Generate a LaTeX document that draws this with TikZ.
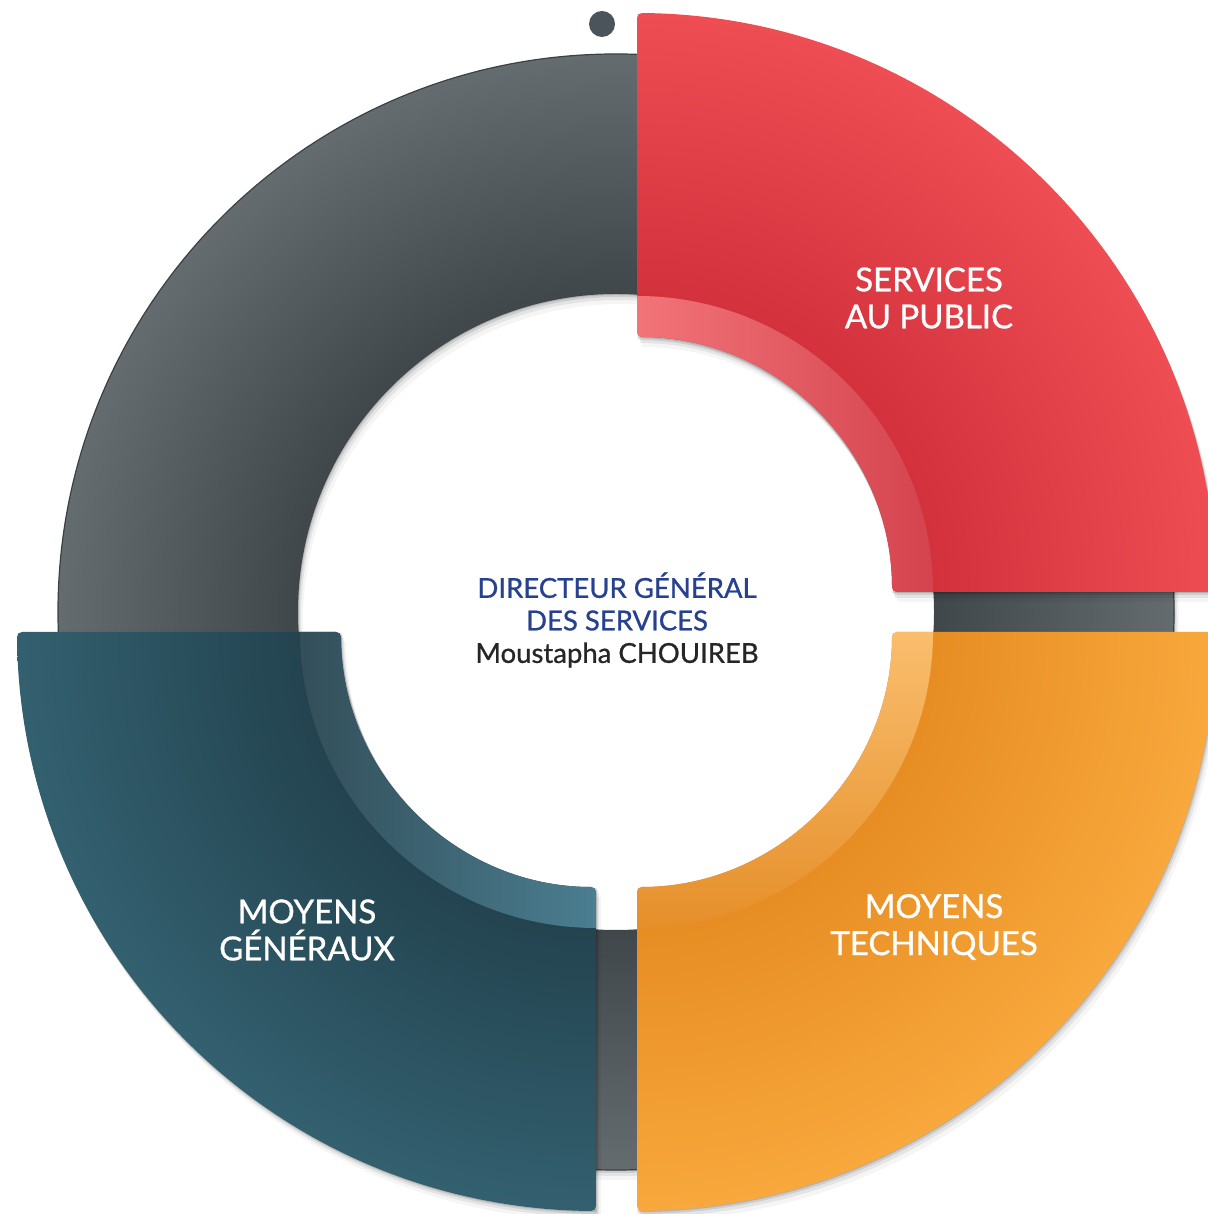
\documentclass[tikz,border=0pt]{standalone}
\usepackage{fontspec}
\setmainfont{Lato}[FakeBold=0.9]
\newfontfamily\medfont{Lato}[FakeBold=0.9]
\usepackage{tikz}
\usetikzlibrary{shadings}

\definecolor{grayin}{HTML}{40474B}
\definecolor{grayout}{HTML}{646C70}
\definecolor{grayline}{HTML}{3A4145}
\definecolor{redin}{HTML}{CF2E3A}
\definecolor{redout}{HTML}{EE4D53}
\definecolor{orangein}{HTML}{E4891F}
\definecolor{orangeout}{HTML}{F8A83C}
\definecolor{tealin}{HTML}{213F4B}
\definecolor{tealout}{HTML}{33606F}
\definecolor{tealband}{HTML}{4A7E91}
\definecolor{dirblue}{HTML}{27418F}
\definecolor{dotgray}{HTML}{4B545A}

% the middle 50bp of a shading is what covers the path
\pgfdeclareradialshading{grayring}{\pgfpoint{0bp}{0bp}}{color(0bp)=(grayin); color(14.2bp)=(grayin); color(25bp)=(grayout); color(50bp)=(grayout)}
\pgfdeclareradialshading{redring}{\pgfpoint{0bp}{0bp}}{color(0bp)=(redin); color(11bp)=(redin); color(25bp)=(redout); color(50bp)=(redout)}
\pgfdeclareradialshading{orangering}{\pgfpoint{0bp}{0bp}}{color(0bp)=(orangein); color(11bp)=(orangein); color(25bp)=(orangeout); color(50bp)=(orangeout)}
\pgfdeclareradialshading{tealring}{\pgfpoint{0bp}{0bp}}{color(0bp)=(tealin); color(11bp)=(tealin); color(25bp)=(tealout); color(50bp)=(tealout)}

% quarter of a ring: start angle, end angle, inner radius, outer radius
\newcommand{\ringpart}[4]{(#1:#4) arc[start angle=#1, end angle=#2, radius=#4] -- (#2:#3) arc[start angle=#2, end angle=#1, radius=#3] -- cycle}
\newcommand{\softshadow}[1]{\foreach \s/\o in {1/0.14, 3/0.10, 6/0.07, 10/0.04}{\fill[black, opacity=\o, xshift=0.5*\s, yshift=-\s] #1;}}

\tikzset{
	seglabel/.style = {text = white, align = center, inner sep = 0pt,
		font = \medfont\fontsize{33}{37}\selectfont},
	dirlabel/.style = {align = center, inner sep = 0pt,
		font = \medfont\fontsize{27.5}{32.5}\selectfont},
	band/.style     = {rounded corners = 5}
}

\begin{document}
\begin{tikzpicture}[x=1pt, y=1pt]
	\useasboundingbox (0,0) rectangle (1207,1214);
	
	% gray ring behind
	\begin{scope}[shift={(616,602)}]
		\softshadow{[even odd rule] (0,0) circle (558) (0,0) circle (318)}
		\shade[shading=grayring, even odd rule] (0,0) circle (558) (0,0) circle (318);
		\draw[grayline, line width=1.2] (0,0) circle (558);
	\end{scope}
	\fill[dotgray] (602,1190) circle (13);
	
	% teal
	\begin{scope}[shift={(596,582)}]
		\softshadow{\ringpart{-90}{-180}{255}{579}}
		\clip[band] \ringpart{-90}{-180}{255}{579};
		\shade[shading=tealring] (0,0) circle (579);
		\shade[left color=tealin!92!white, right color=tealband] \ringpart{-90}{-180}{255}{296};
	\end{scope}
	
	% orange
	\begin{scope}[shift={(637,582)}]
		\softshadow{\ringpart{0}{-90}{255}{579}}
		\clip[band] \ringpart{0}{-90}{255}{579};
		\shade[shading=orangering] (0,0) circle (579);
		\shade[top color=orangeout!75!white, bottom color=orangein!95!white] \ringpart{0}{-90}{255}{296};
	\end{scope}
	
	% red
	\begin{scope}[shift={(637,622)}]
		\softshadow{\ringpart{90}{0}{255}{579}}
		\clip[band] \ringpart{90}{0}{255}{579};
		\shade[shading=redring] (0,0) circle (579);
		\shade[left color=redout!78!white, right color=redin!90!white] \ringpart{90}{0}{255}{296};
	\end{scope}
	
	\draw
	node at (929,916)[seglabel] (public) {SERVICES\\AU PUBLIC}
	node at (934,287)[seglabel] (techniques) {MOYENS\\TECHNIQUES}
	node at (307,284)[seglabel] (generaux) {MOYENS\\GÉNÉRAUX}
	node at (617,594)[dirlabel] (dgs) {\textcolor{dirblue}{DIRECTEUR GÉNÉRAL}\\\textcolor{dirblue}{DES SERVICES}\\\textcolor{black!85}{Moustapha CHOUIREB}}
	;
\end{tikzpicture}
\end{document}
